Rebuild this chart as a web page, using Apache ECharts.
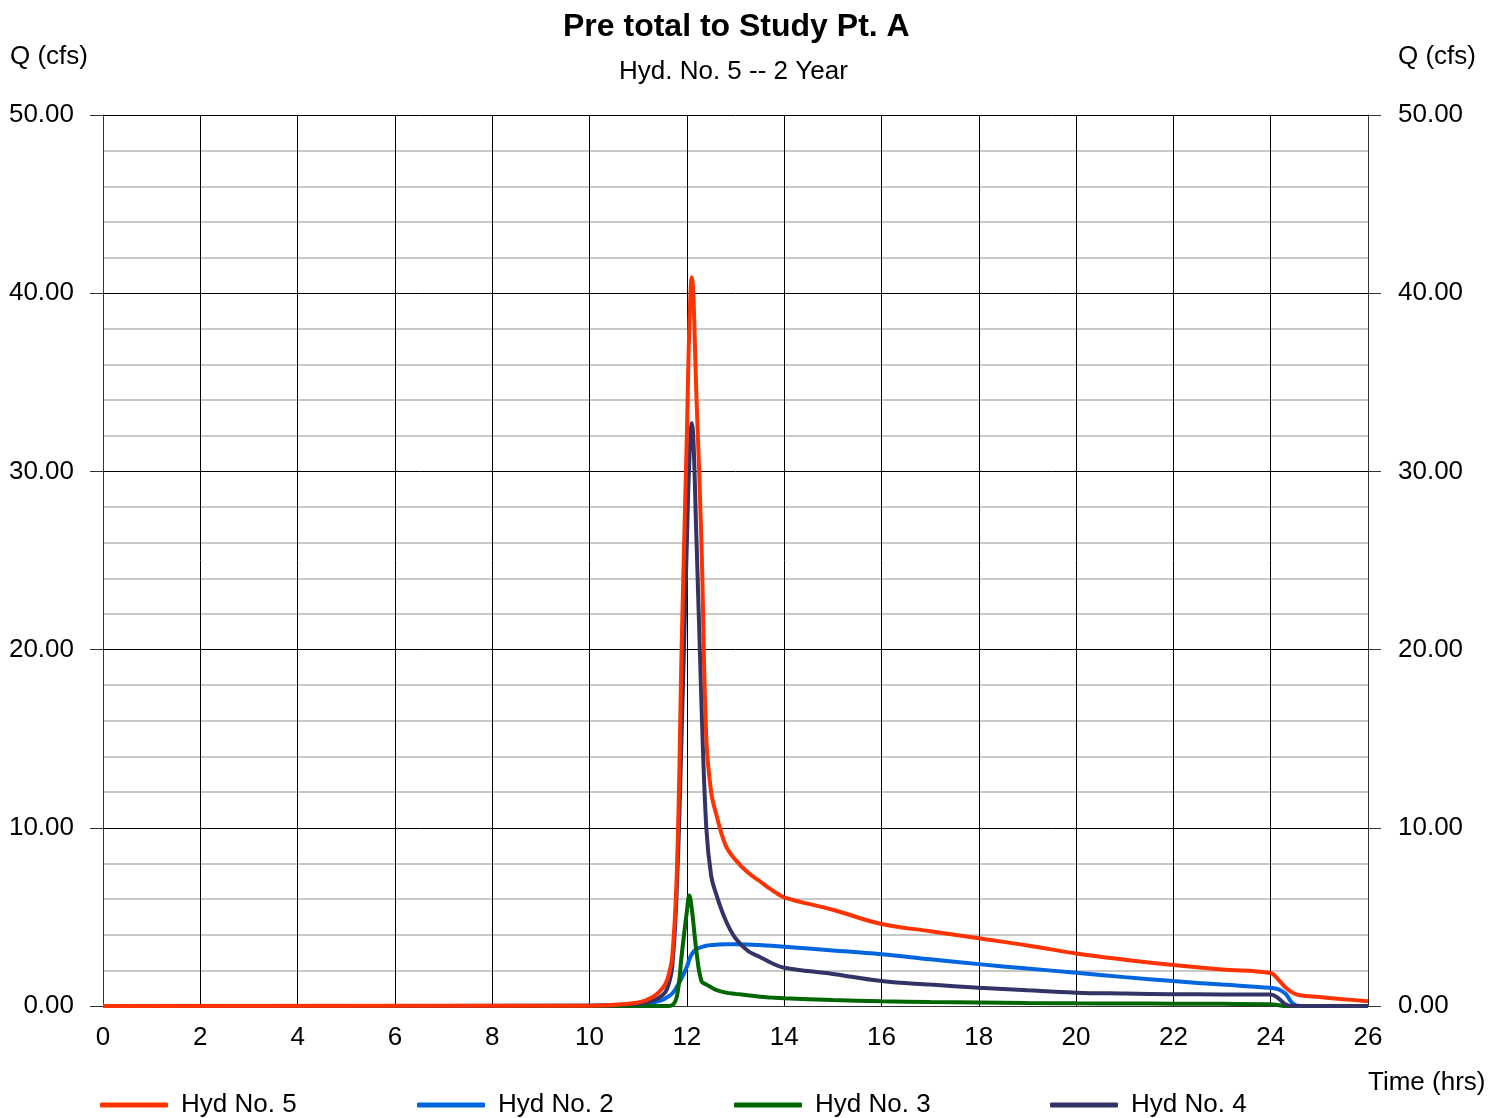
<!DOCTYPE html>
<html>
<head>
<meta charset="utf-8">
<script src="https://cdn.jsdelivr.net/npm/echarts@6/dist/echarts.min.js"></script>
<style>
  html,body{margin:0;padding:0;background:#fff;}
  #chart{width:1506px;height:1118px;}
</style>
</head>
<body>
<div id="chart"></div>
<script>
// time (hrs)
var hours=[0,10,11,11.3,11.5,11.6,11.7,11.8,11.9,12.0,12.05,12.1,12.2,12.3,12.4,12.5,12.6,12.8,13.0,13.25,13.5,13.75,14,15,16,17,18,19,20,21,22,23,24,24.15,24.3,24.45,24.6,25,25.5,26];

// Q (cfs)
var hyd5=[0,0.02,0.2,0.5,1.0,1.5,2.8,8,21,32,38,40.9,34,26,15,12,10.8,9.0,8.2,7.5,7.0,6.5,6.1,5.4,4.6,4.2,3.8,3.4,2.95,2.6,2.3,2.05,1.85,1.5,1.05,0.75,0.6,0.5,0.38,0.27];
var hyd2=[0,0.01,0.08,0.2,0.35,0.5,0.7,1.1,1.6,2.2,2.6,2.9,3.2,3.3,3.38,3.42,3.44,3.46,3.46,3.45,3.42,3.38,3.33,3.12,2.9,2.62,2.35,2.1,1.87,1.62,1.4,1.2,1.02,0.95,0.7,0.15,0,0,0,0];
var hyd3=[0,0,0,0,0,0,0.05,0.6,3.0,5.3,6.2,5.5,3.0,1.4,1.2,1.05,0.9,0.75,0.68,0.6,0.52,0.47,0.43,0.33,0.26,0.22,0.2,0.17,0.15,0.14,0.13,0.12,0.1,0.05,0,0,0,0,0,0];
var hyd4=[0,0.01,0.12,0.3,0.6,1.0,2.2,7,16,26,30.5,32.7,26,17,10,7.3,6.3,4.8,3.8,3.1,2.75,2.4,2.15,1.8,1.4,1.2,1.03,0.88,0.75,0.7,0.66,0.65,0.64,0.45,0.1,0,0,0,0,0];

var seriesNames=['Hyd No. 5','Hyd No. 2','Hyd No. 3','Hyd No. 4'];
var seriesColors=['#ff3300','#0066dd','#006600','#333366'];
var seriesValues=[hyd5,hyd2,hyd3,hyd4];
var legendLeft=[95,412,729,1045];

var FONT='Liberation Sans, Arial, sans-serif';

function pairs(vals){
    return hours.map(function(t,i){return [t,vals[i]];});
}

var chart=echarts.init(document.getElementById('chart'));

var series=[];
// draw order: blue, green, navy, red on top
[1,2,3,0].forEach(function(k){
    series.push({
        name:seriesNames[k],
        type:'line',
        data:pairs(seriesValues[k]),
        showSymbol:false,
        smooth:0.4,
        lineStyle:{color:seriesColors[k],width:4},
        itemStyle:{color:seriesColors[k]},
        yAxisIndex:0
    });
});

var legends=seriesNames.map(function(n,i){
    return {
        data:[n],
        left:legendLeft[i],
        top:1087,
        icon:'roundRect',
        itemWidth:68,
        itemHeight:5,
        itemGap:10,
        textStyle:{fontSize:26,color:'#000',fontFamily:FONT,padding:[0,0,0,8]}
    };
});

var yAxisBase={
    type:'value',
    min:0,
    max:50,
    interval:10,
    axisLine:{show:true,lineStyle:{color:'#333',width:1}},
    axisTick:{show:true,inside:false,length:13,lineStyle:{color:'#333'}},
    axisLabel:{fontSize:26,color:'#000',fontFamily:FONT,margin:29,
        formatter:function(v){return v.toFixed(2);}}
};

chart.setOption({
    animation:false,
    backgroundColor:'#fff',
    title:[
        {text:'Pre total to Study Pt. A',left:558,top:6,
            textStyle:{fontSize:32,fontWeight:'bold',color:'#000',fontFamily:FONT}},
        {text:'Hyd. No. 5 -- 2 Year',left:614,top:54,
            textStyle:{fontSize:26,fontWeight:'normal',color:'#000',fontFamily:FONT}}
    ],
    graphic:[
        {type:'text',left:10,top:44,style:{text:'Q (cfs)',fontSize:26,fill:'#000',fontFamily:FONT}},
        {type:'text',left:1398,top:44,style:{text:'Q (cfs)',fontSize:26,fill:'#000',fontFamily:FONT}},
        {type:'text',left:1368,top:1070,style:{text:'Time (hrs)',fontSize:26,fill:'#000',fontFamily:FONT}}
    ],
    legend:legends,
    grid:{left:103,right:138,top:115,bottom:112,containLabel:false},
    xAxis:{
        type:'value',
        min:0,
        max:26,
        interval:2,
        axisLine:{show:true,lineStyle:{color:'#333',width:1}},
        axisTick:{show:false},
        axisLabel:{fontSize:26,color:'#000',fontFamily:FONT,margin:19},
        splitLine:{show:true,lineStyle:{color:'#000',width:1}}
    },
    yAxis:[
        Object.assign({},yAxisBase,{
            position:'left',
            minorTick:{show:false,splitNumber:5},
            minorSplitLine:{show:true,lineStyle:{color:'#c8c8c8',width:2}},
            splitLine:{show:true,lineStyle:{color:'#000',width:1}}
        }),
        Object.assign({},yAxisBase,{
            position:'right',
            axisLabel:Object.assign({},yAxisBase.axisLabel,{margin:30}),
            splitLine:{show:false}
        })
    ],
    series:series
});
</script>
</body>
</html>
